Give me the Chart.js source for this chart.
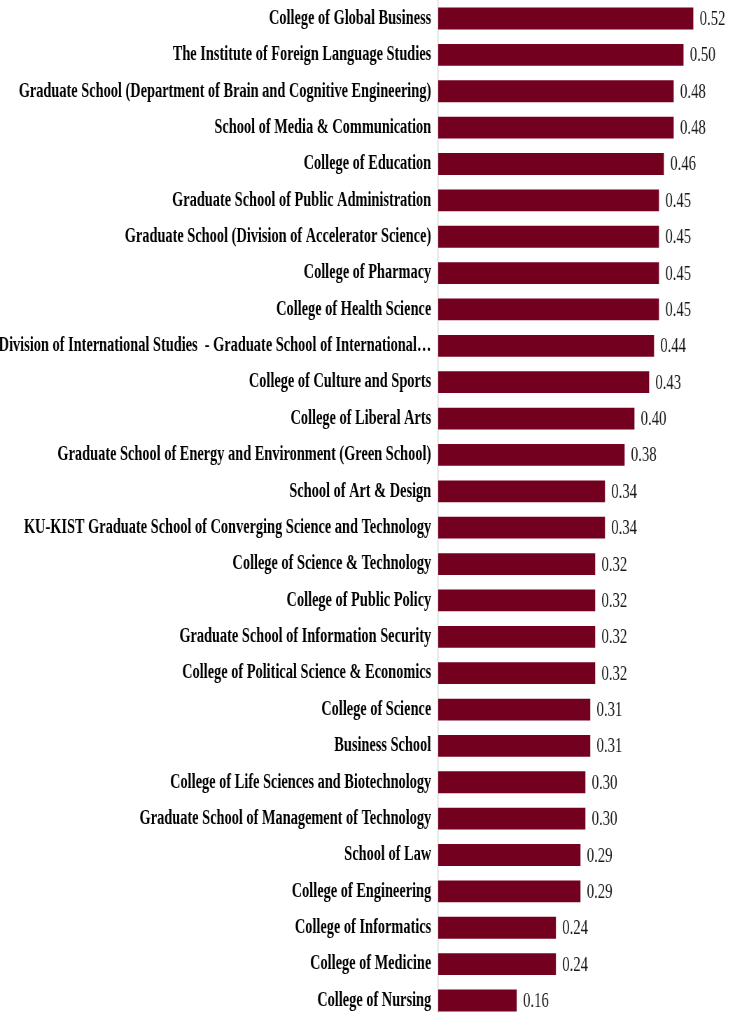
<!DOCTYPE html>
<html>
<head>
<meta charset="utf-8">
<script src="https://cdn.jsdelivr.net/npm/chart.js@4"></script>
<style>
  html, body { margin: 0; padding: 0; background: #fff; overflow: hidden; }
  /* the source picture is horizontally squeezed, so the whole chart is drawn wide and compressed */
  #wrap { position: absolute; left: 0; top: 0; width: 1043px; transform: scaleX(0.7); transform-origin: 0 0; }
</style>
</head>
<body>
<div id="wrap"><canvas id="rankChart" width="1043" height="1063"></canvas></div>
<script>
// ========= Data =========
const colleges = [
  'College of Global Business',
  'The Institute of Foreign Language Studies',
  'Graduate School (Department of Brain and Cognitive Engineering)',
  'School of Media & Communication',
  'College of Education',
  'Graduate School of Public Administration',
  'Graduate School (Division of Accelerator Science)',
  'College of Pharmacy',
  'College of Health Science',
  'Division of International Studies  - Graduate School of International…',
  'College of Culture and Sports',
  'College of Liberal Arts',
  'Graduate School of Energy and Environment (Green School)',
  'School of Art & Design',
  'KU-KIST Graduate School of Converging Science and Technology',
  'College of Science & Technology',
  'College of Public Policy',
  'Graduate School of Information Security',
  'College of Political Science & Economics',
  'College of Science',
  'Business School',
  'College of Life Sciences and Biotechnology',
  'Graduate School of Management of Technology',
  'School of Law',
  'College of Engineering',
  'College of Informatics',
  'College of Medicine',
  'College of Nursing'
];

const values = [0.52, 0.50, 0.48, 0.48, 0.46, 0.45, 0.45, 0.45, 0.45, 0.44, 0.43, 0.40, 0.38, 0.34,
                0.34, 0.32, 0.32, 0.32, 0.32, 0.31, 0.31, 0.30, 0.30, 0.29, 0.29, 0.24, 0.24, 0.16];

const barColor = '#740020';
const PLOT_HEIGHT = 1020;   // rows keep going a little below the window, as in the picture

// ========= Value labels next to the bars =========
const valueLabels = {
  id: 'valueLabels',
  afterDatasetsDraw(chart) {
    const ctx = chart.ctx;
    const meta = chart.getDatasetMeta(0);
    ctx.save();
    ctx.font = '21px "Liberation Serif", "Times New Roman", serif';
    ctx.fillStyle = '#1a1a1a';
    ctx.textAlign = 'left';
    ctx.textBaseline = 'middle';
    meta.data.forEach((bar, i) => {
      ctx.fillText(values[i].toFixed(2), bar.x + 9, bar.y + 1);
    });
    ctx.restore();
  }
};

// ========= Chart =========
const chart = new Chart(document.getElementById('rankChart'), {
  type: 'bar',
  data: {
    labels: colleges,
    datasets: [{
      data: values,
      backgroundColor: barColor,
      borderWidth: 0,
      barPercentage: 0.6,
      categoryPercentage: 1
    }]
  },
  options: {
    indexAxis: 'y',
    responsive: false,
    animation: false,
    devicePixelRatio: 1,
    layout: { padding: 0 },
    plugins: {
      legend: { display: false },
      tooltip: { enabled: false }
    },
    scales: {
      x: {
        display: false,
        min: 0,
        max: 0.595
      },
      y: {
        grid: { display: false, drawTicks: false },
        border: { display: true, color: '#d9d9d9', width: 1.5 },
        ticks: {
          padding: 10,
          autoSkip: false,
          color: '#000',
          font: { family: '"Liberation Serif", "Times New Roman", serif', size: 20.5, weight: 'bold' }
        },
        afterFit: (scale) => { scale.width = 626; }
      }
    }
  },
  plugins: [valueLabels]
});

// the axis keeps half a label of room above and below; push that room out of the window
const padTop = chart.chartArea.top;
const padBottom = chart.height - chart.chartArea.bottom;
chart.resize(1043, Math.round(PLOT_HEIGHT + padTop + padBottom));
document.getElementById('wrap').style.top = (-chart.chartArea.top) + 'px';
</script>
</body>
</html>
